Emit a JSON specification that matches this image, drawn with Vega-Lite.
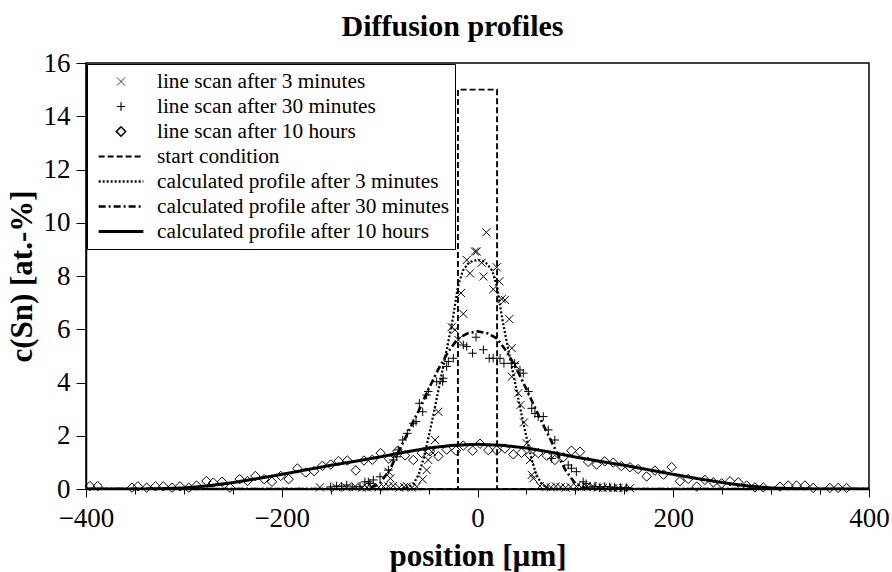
{
  "$schema": "https://vega.github.io/schema/vega-lite/v6.json",
  "width": 783,
  "height": 426,
  "autosize": {"type": "none"},
  "padding": {"left": 86, "top": 63, "right": 23, "bottom": 83},
  "background": "white",
  "title": {"text": "Diffusion profiles", "font": "Liberation Serif", "fontSize": 30, "fontWeight": "bold", "color": "black", "anchor": "middle", "dx": -25, "offset": 7},
  "config": {
    "font": "Liberation Serif",
    "view": {"stroke": "black", "strokeWidth": 1.5},
    "style": {"guide-label": {"font": "Liberation Serif", "fill": "black"}, "guide-title": {"font": "Liberation Serif"}},
    "axis": {"labelFont": "Liberation Serif", "labelFontSize": 27, "labelColor": "black", "titleFont": "Liberation Serif", "titleFontSize": 31, "titleFontWeight": "bold", "titleColor": "black", "domainColor": "black", "domainWidth": 1.5, "tickColor": "black", "tickWidth": 1, "grid": false, "labelFlush": false, "labelOverlap": false},
    "legend": {"orient": "top-left", "offset": 1, "labelFont": "Liberation Serif", "labelFontSize": 21.3, "labelColor": "black", "labelLimit": 500, "symbolSize": 2000, "clipHeight": 25, "rowPadding": 0, "padding": 5, "strokeColor": "black", "fillColor": "white", "symbolStrokeColor": "black", "symbolFillColor": "transparent", "symbolOffset": 5, "labelOffset": 12}
  },
  "data": {"values": [
    {"s": "start condition", "x": -400, "y": 0},
    {"s": "start condition", "x": -20, "y": 0},
    {"s": "start condition", "x": -20, "y": 15},
    {"s": "start condition", "x": 20, "y": 15},
    {"s": "start condition", "x": 20, "y": 0},
    {"s": "start condition", "x": 400, "y": 0},
    {"s": "calculated profile after 3 minutes", "x": -400, "y": 0},
    {"s": "calculated profile after 3 minutes", "x": -80, "y": 0},
    {"s": "calculated profile after 3 minutes", "x": -75, "y": 0.02},
    {"s": "calculated profile after 3 minutes", "x": -70, "y": 0.07},
    {"s": "calculated profile after 3 minutes", "x": -65, "y": 0.22},
    {"s": "calculated profile after 3 minutes", "x": -60, "y": 0.55},
    {"s": "calculated profile after 3 minutes", "x": -55, "y": 1.15},
    {"s": "calculated profile after 3 minutes", "x": -50, "y": 1.95},
    {"s": "calculated profile after 3 minutes", "x": -45, "y": 2.8},
    {"s": "calculated profile after 3 minutes", "x": -40, "y": 3.7},
    {"s": "calculated profile after 3 minutes", "x": -35, "y": 4.6},
    {"s": "calculated profile after 3 minutes", "x": -30, "y": 5.5},
    {"s": "calculated profile after 3 minutes", "x": -25, "y": 6.45},
    {"s": "calculated profile after 3 minutes", "x": -20, "y": 7.6},
    {"s": "calculated profile after 3 minutes", "x": -15, "y": 8.2},
    {"s": "calculated profile after 3 minutes", "x": -10, "y": 8.45},
    {"s": "calculated profile after 3 minutes", "x": -5, "y": 8.57},
    {"s": "calculated profile after 3 minutes", "x": 0, "y": 8.6},
    {"s": "calculated profile after 3 minutes", "x": 5, "y": 8.57},
    {"s": "calculated profile after 3 minutes", "x": 10, "y": 8.45},
    {"s": "calculated profile after 3 minutes", "x": 15, "y": 8.2},
    {"s": "calculated profile after 3 minutes", "x": 20, "y": 7.6},
    {"s": "calculated profile after 3 minutes", "x": 25, "y": 6.45},
    {"s": "calculated profile after 3 minutes", "x": 30, "y": 5.5},
    {"s": "calculated profile after 3 minutes", "x": 35, "y": 4.6},
    {"s": "calculated profile after 3 minutes", "x": 40, "y": 3.7},
    {"s": "calculated profile after 3 minutes", "x": 45, "y": 2.8},
    {"s": "calculated profile after 3 minutes", "x": 50, "y": 1.95},
    {"s": "calculated profile after 3 minutes", "x": 55, "y": 1.15},
    {"s": "calculated profile after 3 minutes", "x": 60, "y": 0.55},
    {"s": "calculated profile after 3 minutes", "x": 65, "y": 0.22},
    {"s": "calculated profile after 3 minutes", "x": 70, "y": 0.07},
    {"s": "calculated profile after 3 minutes", "x": 75, "y": 0.02},
    {"s": "calculated profile after 3 minutes", "x": 80, "y": 0},
    {"s": "calculated profile after 3 minutes", "x": 400, "y": 0},
    {"s": "calculated profile after 30 minutes", "x": -400, "y": 0},
    {"s": "calculated profile after 30 minutes", "x": -120, "y": 0},
    {"s": "calculated profile after 30 minutes", "x": -110, "y": 0.04},
    {"s": "calculated profile after 30 minutes", "x": -100, "y": 0.2},
    {"s": "calculated profile after 30 minutes", "x": -90, "y": 0.7},
    {"s": "calculated profile after 30 minutes", "x": -80, "y": 1.45},
    {"s": "calculated profile after 30 minutes", "x": -70, "y": 2.2},
    {"s": "calculated profile after 30 minutes", "x": -60, "y": 2.95},
    {"s": "calculated profile after 30 minutes", "x": -50, "y": 3.75},
    {"s": "calculated profile after 30 minutes", "x": -40, "y": 4.5},
    {"s": "calculated profile after 30 minutes", "x": -30, "y": 5.15},
    {"s": "calculated profile after 30 minutes", "x": -20, "y": 5.65},
    {"s": "calculated profile after 30 minutes", "x": -10, "y": 5.85},
    {"s": "calculated profile after 30 minutes", "x": 0, "y": 5.92},
    {"s": "calculated profile after 30 minutes", "x": 10, "y": 5.85},
    {"s": "calculated profile after 30 minutes", "x": 20, "y": 5.65},
    {"s": "calculated profile after 30 minutes", "x": 30, "y": 5.15},
    {"s": "calculated profile after 30 minutes", "x": 40, "y": 4.5},
    {"s": "calculated profile after 30 minutes", "x": 50, "y": 3.75},
    {"s": "calculated profile after 30 minutes", "x": 60, "y": 2.95},
    {"s": "calculated profile after 30 minutes", "x": 70, "y": 2.2},
    {"s": "calculated profile after 30 minutes", "x": 80, "y": 1.45},
    {"s": "calculated profile after 30 minutes", "x": 90, "y": 0.7},
    {"s": "calculated profile after 30 minutes", "x": 100, "y": 0.2},
    {"s": "calculated profile after 30 minutes", "x": 110, "y": 0.04},
    {"s": "calculated profile after 30 minutes", "x": 120, "y": 0},
    {"s": "calculated profile after 30 minutes", "x": 400, "y": 0},
    {"s": "calculated profile after 10 hours", "x": -400, "y": 0},
    {"s": "calculated profile after 10 hours", "x": -350, "y": 0},
    {"s": "calculated profile after 10 hours", "x": -325, "y": 0.01},
    {"s": "calculated profile after 10 hours", "x": -300, "y": 0.04},
    {"s": "calculated profile after 10 hours", "x": -275, "y": 0.12},
    {"s": "calculated profile after 10 hours", "x": -250, "y": 0.24},
    {"s": "calculated profile after 10 hours", "x": -225, "y": 0.39},
    {"s": "calculated profile after 10 hours", "x": -200, "y": 0.55},
    {"s": "calculated profile after 10 hours", "x": -175, "y": 0.72},
    {"s": "calculated profile after 10 hours", "x": -150, "y": 0.89},
    {"s": "calculated profile after 10 hours", "x": -125, "y": 1.04},
    {"s": "calculated profile after 10 hours", "x": -100, "y": 1.2},
    {"s": "calculated profile after 10 hours", "x": -75, "y": 1.38},
    {"s": "calculated profile after 10 hours", "x": -50, "y": 1.54},
    {"s": "calculated profile after 10 hours", "x": -25, "y": 1.64},
    {"s": "calculated profile after 10 hours", "x": 0, "y": 1.68},
    {"s": "calculated profile after 10 hours", "x": 25, "y": 1.64},
    {"s": "calculated profile after 10 hours", "x": 50, "y": 1.54},
    {"s": "calculated profile after 10 hours", "x": 75, "y": 1.38},
    {"s": "calculated profile after 10 hours", "x": 100, "y": 1.2},
    {"s": "calculated profile after 10 hours", "x": 125, "y": 1.04},
    {"s": "calculated profile after 10 hours", "x": 150, "y": 0.89},
    {"s": "calculated profile after 10 hours", "x": 175, "y": 0.72},
    {"s": "calculated profile after 10 hours", "x": 200, "y": 0.55},
    {"s": "calculated profile after 10 hours", "x": 225, "y": 0.39},
    {"s": "calculated profile after 10 hours", "x": 250, "y": 0.24},
    {"s": "calculated profile after 10 hours", "x": 275, "y": 0.12},
    {"s": "calculated profile after 10 hours", "x": 300, "y": 0.04},
    {"s": "calculated profile after 10 hours", "x": 325, "y": 0.01},
    {"s": "calculated profile after 10 hours", "x": 350, "y": 0},
    {"s": "calculated profile after 10 hours", "x": 400, "y": 0},
    {"s": "line scan after 3 minutes", "x": -161, "y": 0.06},
    {"s": "line scan after 3 minutes", "x": -144, "y": 0.06},
    {"s": "line scan after 3 minutes", "x": -134, "y": 0.06},
    {"s": "line scan after 3 minutes", "x": -125, "y": 0.1},
    {"s": "line scan after 3 minutes", "x": -118, "y": 0.05},
    {"s": "line scan after 3 minutes", "x": -113, "y": 0.06},
    {"s": "line scan after 3 minutes", "x": -108, "y": 0.08},
    {"s": "line scan after 3 minutes", "x": -101, "y": 0.06},
    {"s": "line scan after 3 minutes", "x": -96, "y": 0.09},
    {"s": "line scan after 3 minutes", "x": -91, "y": 0.1},
    {"s": "line scan after 3 minutes", "x": -86, "y": 0.12},
    {"s": "line scan after 3 minutes", "x": -80, "y": 0.05},
    {"s": "line scan after 3 minutes", "x": -75, "y": 0.08},
    {"s": "line scan after 3 minutes", "x": -72, "y": 0.1},
    {"s": "line scan after 3 minutes", "x": -67, "y": 0.05},
    {"s": "line scan after 3 minutes", "x": -62, "y": 0.09},
    {"s": "line scan after 3 minutes", "x": -91, "y": 0.65},
    {"s": "line scan after 3 minutes", "x": -89, "y": 0.4},
    {"s": "line scan after 3 minutes", "x": -56, "y": 0.36},
    {"s": "line scan after 3 minutes", "x": -52, "y": 0.71},
    {"s": "line scan after 3 minutes", "x": -50.3, "y": 1.09},
    {"s": "line scan after 3 minutes", "x": -46.8, "y": 1.4},
    {"s": "line scan after 3 minutes", "x": -43.4, "y": 1.84},
    {"s": "line scan after 3 minutes", "x": -40, "y": 2.9},
    {"s": "line scan after 3 minutes", "x": -26.4, "y": 6.08},
    {"s": "line scan after 3 minutes", "x": -23, "y": 5.98},
    {"s": "line scan after 3 minutes", "x": -19.6, "y": 5.6},
    {"s": "line scan after 3 minutes", "x": -16.9, "y": 7.36},
    {"s": "line scan after 3 minutes", "x": -14.5, "y": 6.58},
    {"s": "line scan after 3 minutes", "x": -11, "y": 8.6},
    {"s": "line scan after 3 minutes", "x": -7.7, "y": 8.1},
    {"s": "line scan after 3 minutes", "x": -2.6, "y": 8.92},
    {"s": "line scan after 3 minutes", "x": -0.8, "y": 8.92},
    {"s": "line scan after 3 minutes", "x": 4.3, "y": 8.5},
    {"s": "line scan after 3 minutes", "x": 6, "y": 7.98},
    {"s": "line scan after 3 minutes", "x": 9, "y": 9.64},
    {"s": "line scan after 3 minutes", "x": 16.1, "y": 7.5},
    {"s": "line scan after 3 minutes", "x": 19.6, "y": 8.33},
    {"s": "line scan after 3 minutes", "x": 22.3, "y": 7.8},
    {"s": "line scan after 3 minutes", "x": 24.7, "y": 7.13},
    {"s": "line scan after 3 minutes", "x": 28, "y": 7.1},
    {"s": "line scan after 3 minutes", "x": 32.5, "y": 6.38},
    {"s": "line scan after 3 minutes", "x": 35, "y": 5.29},
    {"s": "line scan after 3 minutes", "x": 38.3, "y": 4.66},
    {"s": "line scan after 3 minutes", "x": 35, "y": 4.22},
    {"s": "line scan after 3 minutes", "x": 41.7, "y": 3.6},
    {"s": "line scan after 3 minutes", "x": 44, "y": 3.16},
    {"s": "line scan after 3 minutes", "x": 47.5, "y": 2.5},
    {"s": "line scan after 3 minutes", "x": 50.3, "y": 1.72},
    {"s": "line scan after 3 minutes", "x": 53.6, "y": 1.09},
    {"s": "line scan after 3 minutes", "x": 55.4, "y": 0.53},
    {"s": "line scan after 3 minutes", "x": 57, "y": 0.4},
    {"s": "line scan after 3 minutes", "x": 63.8, "y": 0.11},
    {"s": "line scan after 3 minutes", "x": 70, "y": 0.08},
    {"s": "line scan after 3 minutes", "x": 75, "y": 0.06},
    {"s": "line scan after 3 minutes", "x": 80, "y": 0.1},
    {"s": "line scan after 3 minutes", "x": 85, "y": 0.07},
    {"s": "line scan after 3 minutes", "x": 90, "y": 0.05},
    {"s": "line scan after 3 minutes", "x": 95, "y": 0.08},
    {"s": "line scan after 3 minutes", "x": 101, "y": 0.1},
    {"s": "line scan after 3 minutes", "x": 106, "y": 0.06},
    {"s": "line scan after 3 minutes", "x": 111.5, "y": 0.1},
    {"s": "line scan after 3 minutes", "x": 118, "y": 0.1},
    {"s": "line scan after 3 minutes", "x": 123, "y": 0.05},
    {"s": "line scan after 3 minutes", "x": 128, "y": 0.03},
    {"s": "line scan after 3 minutes", "x": 133, "y": 0.05},
    {"s": "line scan after 3 minutes", "x": 138.7, "y": 0.03},
    {"s": "line scan after 3 minutes", "x": 144, "y": 0.04},
    {"s": "line scan after 3 minutes", "x": 149, "y": 0.03},
    {"s": "line scan after 3 minutes", "x": 155.8, "y": 0.03},
    {"s": "line scan after 30 minutes", "x": -150, "y": 0.08},
    {"s": "line scan after 30 minutes", "x": -144, "y": 0.11},
    {"s": "line scan after 30 minutes", "x": -139, "y": 0.1},
    {"s": "line scan after 30 minutes", "x": -133.6, "y": 0.15},
    {"s": "line scan after 30 minutes", "x": -128, "y": 0.08},
    {"s": "line scan after 30 minutes", "x": -120, "y": 0.1},
    {"s": "line scan after 30 minutes", "x": -115, "y": 0.27},
    {"s": "line scan after 30 minutes", "x": -111.5, "y": 0.27},
    {"s": "line scan after 30 minutes", "x": -109.8, "y": 0.21},
    {"s": "line scan after 30 minutes", "x": -106.4, "y": 0.34},
    {"s": "line scan after 30 minutes", "x": -99.6, "y": 0.46},
    {"s": "line scan after 30 minutes", "x": -91, "y": 0.71},
    {"s": "line scan after 30 minutes", "x": -86, "y": 1.09},
    {"s": "line scan after 30 minutes", "x": -82.5, "y": 1.21},
    {"s": "line scan after 30 minutes", "x": -80.9, "y": 1.47},
    {"s": "line scan after 30 minutes", "x": -76.4, "y": 1.84},
    {"s": "line scan after 30 minutes", "x": -71.7, "y": 2.09},
    {"s": "line scan after 30 minutes", "x": -65.6, "y": 2.47},
    {"s": "line scan after 30 minutes", "x": -62.8, "y": 2.53},
    {"s": "line scan after 30 minutes", "x": -56, "y": 2.9},
    {"s": "line scan after 30 minutes", "x": -59.4, "y": 3.22},
    {"s": "line scan after 30 minutes", "x": -52, "y": 3.53},
    {"s": "line scan after 30 minutes", "x": -50.3, "y": 3.66},
    {"s": "line scan after 30 minutes", "x": -41.7, "y": 4.03},
    {"s": "line scan after 30 minutes", "x": -35.6, "y": 4.03},
    {"s": "line scan after 30 minutes", "x": -35, "y": 4.16},
    {"s": "line scan after 30 minutes", "x": -31.5, "y": 4.6},
    {"s": "line scan after 30 minutes", "x": -29.8, "y": 4.79},
    {"s": "line scan after 30 minutes", "x": -24.7, "y": 4.91},
    {"s": "line scan after 30 minutes", "x": -14.5, "y": 5.41},
    {"s": "line scan after 30 minutes", "x": -11, "y": 5.35},
    {"s": "line scan after 30 minutes", "x": -5, "y": 5.1},
    {"s": "line scan after 30 minutes", "x": -1.5, "y": 5.7},
    {"s": "line scan after 30 minutes", "x": 6, "y": 5.23},
    {"s": "line scan after 30 minutes", "x": 12, "y": 4.91},
    {"s": "line scan after 30 minutes", "x": 16, "y": 4.91},
    {"s": "line scan after 30 minutes", "x": 23, "y": 4.91},
    {"s": "line scan after 30 minutes", "x": 27, "y": 4.72},
    {"s": "line scan after 30 minutes", "x": 35, "y": 4.72},
    {"s": "line scan after 30 minutes", "x": 38, "y": 4.72},
    {"s": "line scan after 30 minutes", "x": 43.4, "y": 4.47},
    {"s": "line scan after 30 minutes", "x": 46.8, "y": 4.35},
    {"s": "line scan after 30 minutes", "x": 52, "y": 3.66},
    {"s": "line scan after 30 minutes", "x": 55.4, "y": 3.03},
    {"s": "line scan after 30 minutes", "x": 58.7, "y": 2.84},
    {"s": "line scan after 30 minutes", "x": 62, "y": 2.72},
    {"s": "line scan after 30 minutes", "x": 67.2, "y": 2.72},
    {"s": "line scan after 30 minutes", "x": 72.3, "y": 2.22},
    {"s": "line scan after 30 minutes", "x": 79, "y": 1.84},
    {"s": "line scan after 30 minutes", "x": 75.8, "y": 1.15},
    {"s": "line scan after 30 minutes", "x": 92.7, "y": 0.9},
    {"s": "line scan after 30 minutes", "x": 96, "y": 0.78},
    {"s": "line scan after 30 minutes", "x": 101, "y": 0.65},
    {"s": "line scan after 30 minutes", "x": 108, "y": 0.27},
    {"s": "line scan after 30 minutes", "x": 111, "y": 0.2},
    {"s": "line scan after 30 minutes", "x": 115, "y": 0.08},
    {"s": "line scan after 30 minutes", "x": 120, "y": 0.1},
    {"s": "line scan after 30 minutes", "x": 125, "y": 0.07},
    {"s": "line scan after 30 minutes", "x": 130, "y": 0.09},
    {"s": "line scan after 30 minutes", "x": 135, "y": 0.08},
    {"s": "line scan after 30 minutes", "x": 140, "y": 0.06},
    {"s": "line scan after 30 minutes", "x": 146, "y": 0.05},
    {"s": "line scan after 30 minutes", "x": 152, "y": 0.05},
    {"s": "line scan after 10 hours", "x": -396, "y": 0.11},
    {"s": "line scan after 10 hours", "x": -388, "y": 0.11},
    {"s": "line scan after 10 hours", "x": -353, "y": 0.05},
    {"s": "line scan after 10 hours", "x": -347, "y": 0.1},
    {"s": "line scan after 10 hours", "x": -338, "y": 0.05},
    {"s": "line scan after 10 hours", "x": -329, "y": 0.1},
    {"s": "line scan after 10 hours", "x": -321, "y": 0.1},
    {"s": "line scan after 10 hours", "x": -312, "y": 0.05},
    {"s": "line scan after 10 hours", "x": -304, "y": 0.1},
    {"s": "line scan after 10 hours", "x": -295, "y": 0.05},
    {"s": "line scan after 10 hours", "x": -287, "y": 0.13},
    {"s": "line scan after 10 hours", "x": -277, "y": 0.3},
    {"s": "line scan after 10 hours", "x": -270, "y": 0.24},
    {"s": "line scan after 10 hours", "x": -261, "y": 0.27},
    {"s": "line scan after 10 hours", "x": -253, "y": 0.05},
    {"s": "line scan after 10 hours", "x": -243, "y": 0.37},
    {"s": "line scan after 10 hours", "x": -235, "y": 0.3},
    {"s": "line scan after 10 hours", "x": -227, "y": 0.49},
    {"s": "line scan after 10 hours", "x": -218, "y": 0.37},
    {"s": "line scan after 10 hours", "x": -210, "y": 0.27},
    {"s": "line scan after 10 hours", "x": -201, "y": 0.49},
    {"s": "line scan after 10 hours", "x": -193, "y": 0.37},
    {"s": "line scan after 10 hours", "x": -184, "y": 0.77},
    {"s": "line scan after 10 hours", "x": -175.5, "y": 0.62},
    {"s": "line scan after 10 hours", "x": -167, "y": 0.67},
    {"s": "line scan after 10 hours", "x": -158.5, "y": 0.87},
    {"s": "line scan after 10 hours", "x": -150, "y": 0.92},
    {"s": "line scan after 10 hours", "x": -142, "y": 1.05},
    {"s": "line scan after 10 hours", "x": -133, "y": 1.07},
    {"s": "line scan after 10 hours", "x": -124.4, "y": 0.7},
    {"s": "line scan after 10 hours", "x": -116, "y": 1.07},
    {"s": "line scan after 10 hours", "x": -107.5, "y": 1.1},
    {"s": "line scan after 10 hours", "x": -99, "y": 1.35},
    {"s": "line scan after 10 hours", "x": -90.5, "y": 1.14},
    {"s": "line scan after 10 hours", "x": -82, "y": 1.42},
    {"s": "line scan after 10 hours", "x": -74, "y": 1.26},
    {"s": "line scan after 10 hours", "x": -65.6, "y": 1.09},
    {"s": "line scan after 10 hours", "x": -57, "y": 1.35},
    {"s": "line scan after 10 hours", "x": -48.5, "y": 1.42},
    {"s": "line scan after 10 hours", "x": -40, "y": 1.23},
    {"s": "line scan after 10 hours", "x": -31.5, "y": 1.48},
    {"s": "line scan after 10 hours", "x": -22, "y": 1.44},
    {"s": "line scan after 10 hours", "x": -14.5, "y": 1.63},
    {"s": "line scan after 10 hours", "x": -5, "y": 1.44},
    {"s": "line scan after 10 hours", "x": 2.6, "y": 1.7},
    {"s": "line scan after 10 hours", "x": 11, "y": 1.46},
    {"s": "line scan after 10 hours", "x": 19.6, "y": 1.45},
    {"s": "line scan after 10 hours", "x": 28, "y": 1.52},
    {"s": "line scan after 10 hours", "x": 36.6, "y": 1.3},
    {"s": "line scan after 10 hours", "x": 45, "y": 1.36},
    {"s": "line scan after 10 hours", "x": 53.6, "y": 1.27},
    {"s": "line scan after 10 hours", "x": 62, "y": 1.35},
    {"s": "line scan after 10 hours", "x": 70.7, "y": 1.25},
    {"s": "line scan after 10 hours", "x": 79, "y": 1.09},
    {"s": "line scan after 10 hours", "x": 87.6, "y": 1.19},
    {"s": "line scan after 10 hours", "x": 96, "y": 1.44},
    {"s": "line scan after 10 hours", "x": 104.7, "y": 1.4},
    {"s": "line scan after 10 hours", "x": 113, "y": 1.02},
    {"s": "line scan after 10 hours", "x": 121.7, "y": 0.92},
    {"s": "line scan after 10 hours", "x": 130, "y": 1.04},
    {"s": "line scan after 10 hours", "x": 138.7, "y": 0.99},
    {"s": "line scan after 10 hours", "x": 147, "y": 0.86},
    {"s": "line scan after 10 hours", "x": 155.8, "y": 0.82},
    {"s": "line scan after 10 hours", "x": 164, "y": 0.75},
    {"s": "line scan after 10 hours", "x": 172.8, "y": 0.47},
    {"s": "line scan after 10 hours", "x": 181.3, "y": 0.69},
    {"s": "line scan after 10 hours", "x": 190, "y": 0.54},
    {"s": "line scan after 10 hours", "x": 198.4, "y": 0.82},
    {"s": "line scan after 10 hours", "x": 206.8, "y": 0.29},
    {"s": "line scan after 10 hours", "x": 215.3, "y": 0.38},
    {"s": "line scan after 10 hours", "x": 224, "y": 0.09},
    {"s": "line scan after 10 hours", "x": 232.4, "y": 0.34},
    {"s": "line scan after 10 hours", "x": 241, "y": 0.25},
    {"s": "line scan after 10 hours", "x": 249.4, "y": 0.21},
    {"s": "line scan after 10 hours", "x": 258, "y": 0.29},
    {"s": "line scan after 10 hours", "x": 266.4, "y": 0.25},
    {"s": "line scan after 10 hours", "x": 275, "y": 0.13},
    {"s": "line scan after 10 hours", "x": 283.4, "y": 0.06},
    {"s": "line scan after 10 hours", "x": 292, "y": 0.06},
    {"s": "line scan after 10 hours", "x": 309, "y": 0.09},
    {"s": "line scan after 10 hours", "x": 317.5, "y": 0.13},
    {"s": "line scan after 10 hours", "x": 326, "y": 0.13},
    {"s": "line scan after 10 hours", "x": 334.5, "y": 0.13},
    {"s": "line scan after 10 hours", "x": 343, "y": 0.04},
    {"s": "line scan after 10 hours", "x": 360, "y": 0.04},
    {"s": "line scan after 10 hours", "x": 368.5, "y": 0.04},
    {"s": "line scan after 10 hours", "x": 377, "y": 0.04}
  ]},
  "layer": [
    {
      "transform": [{"filter": {"field": "s", "oneOf": ["start condition", "calculated profile after 3 minutes", "calculated profile after 30 minutes", "calculated profile after 10 hours"]}}],
      "mark": {"type": "line", "color": "black", "clip": true},
      "encoding": {
        "x": {"field": "x", "type": "quantitative", "scale": {"domain": [-400, 400], "nice": false},
          "axis": {"title": "position [µm]", "labelFont": "Liberation Serif", "labelFontSize": 27, "values": [-400, -350, -300, -250, -200, -150, -100, -50, 0, 50, 100, 150, 200, 250, 300, 350, 400], "format": ".0f", "labelExpr": "datum.value % 200 === 0 ? datum.label : ''", "tickSize": {"condition": {"test": "datum.value % 200 === 0", "value": 8}, "value": 5}, "labelPadding": 8, "titlePadding": 10}},
        "y": {"field": "y", "type": "quantitative", "scale": {"domain": [0, 16], "nice": false},
          "axis": {"title": "c(Sn) [at.-%]", "labelFont": "Liberation Serif", "labelFontSize": 27, "values": [0, 0.5, 1, 1.5, 2, 2.5, 3, 3.5, 4, 4.5, 5, 5.5, 6, 6.5, 7, 7.5, 8, 8.5, 9, 9.5, 10, 10.5, 11, 11.5, 12, 12.5, 13, 13.5, 14, 14.5, 15, 15.5, 16], "format": ".0f", "labelExpr": "datum.value % 2 === 0 ? datum.label : ''", "tickSize": {"condition": {"test": "datum.value % 2 === 0", "value": 10}, "value": 6}, "labelPadding": 6, "titlePadding": 5}},
        "strokeDash": {"field": "s", "type": "nominal", "legend": {"title": null},
          "scale": {"domain": ["line scan after 3 minutes", "line scan after 30 minutes", "line scan after 10 hours", "start condition", "calculated profile after 3 minutes", "calculated profile after 30 minutes", "calculated profile after 10 hours"],
                    "range": [[1, 0], [1, 0], [1, 0], [6, 3], [2, 2], [7, 3, 2, 3], [1, 0]]}},
        "strokeWidth": {"field": "s", "type": "nominal", "legend": {"title": null},
          "scale": {"type": "point", "padding": 0, "domain": ["line scan after 3 minutes", "line scan after 30 minutes", "line scan after 10 hours", "start condition", "calculated profile after 3 minutes", "calculated profile after 30 minutes", "calculated profile after 10 hours"],
                    "range": [0.8, 3]}}
      }
    },
    {
      "transform": [{"filter": {"field": "s", "oneOf": ["line scan after 3 minutes", "line scan after 30 minutes", "line scan after 10 hours"]}}],
      "mark": {"type": "point", "filled": false, "color": "black", "opacity": 1, "size": 2000, "strokeWidth": 1},
      "encoding": {
        "x": {"field": "x", "type": "quantitative"},
        "y": {"field": "y", "type": "quantitative"},
        "shape": {"field": "s", "type": "nominal", "legend": {"title": null},
          "scale": {"domain": ["line scan after 3 minutes", "line scan after 30 minutes", "line scan after 10 hours", "start condition", "calculated profile after 3 minutes", "calculated profile after 30 minutes", "calculated profile after 10 hours"],
                    "range": ["M-0.18,-0.18L0.18,0.18M-0.18,0.18L0.18,-0.18", "M-0.19,0L0.19,0M0,-0.19L0,0.19", "M0,-0.21L0.21,0L0,0.21L-0.21,0Z", "stroke", "stroke", "stroke", "stroke"]}}
      }
    }
  ]
}
